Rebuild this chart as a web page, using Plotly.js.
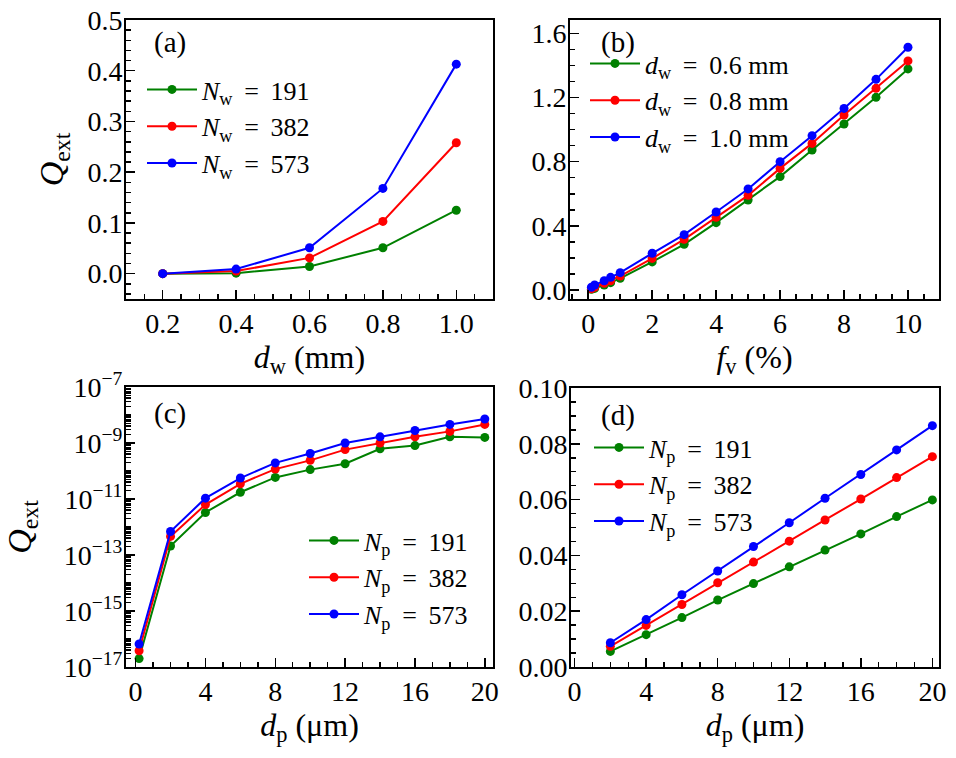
<!DOCTYPE html>
<html>
<head>
<meta charset="utf-8">
<script src="https://cdn.plot.ly/plotly-3.0.1.min.js"></script>
<style>html,body{margin:0;padding:0;background:#fff}#chart{width:956px;height:758px}</style>
</head>
<body>
<div id="chart"></div>
<script>
// Panel (a)
const dw = [0.2, 0.4, 0.6, 0.8, 1.0];
const qa_191 = [0.000, 0.001, 0.014, 0.051, 0.125];
const qa_382 = [0.000, 0.005, 0.031, 0.103, 0.258];
const qa_573 = [0.000, 0.009, 0.051, 0.168, 0.413];
// Panel (b)
const fv = [0.1, 0.2, 0.5, 0.7, 1, 2, 3, 4, 5, 6, 7, 8, 9, 10];
const qb_06 = [0.004, 0.010, 0.031, 0.046, 0.073, 0.175, 0.285, 0.420, 0.561, 0.707, 0.873, 1.035, 1.201, 1.378];
const qb_08 = [0.008, 0.017, 0.042, 0.058, 0.087, 0.197, 0.316, 0.453, 0.590, 0.758, 0.914, 1.091, 1.257, 1.428];
const qb_10 = [0.017, 0.031, 0.058, 0.079, 0.108, 0.229, 0.345, 0.486, 0.630, 0.800, 0.962, 1.132, 1.313, 1.513];
// Panel (c)
const dp_c = [0.2, 2, 4, 6, 8, 10, 12, 14, 16, 18, 20];
const qc_191 = [2.0e-17, 2.1e-13, 3.3e-12, 1.74e-11, 5.9e-11, 1.12e-10, 1.82e-10, 6.2e-10, 8.1e-10, 1.66e-9, 1.58e-9];
const qc_382 = [3.8e-17, 4.6e-13, 6.3e-12, 3.5e-11, 1.17e-10, 2.4e-10, 5.8e-10, 1.0e-9, 1.66e-9, 2.6e-9, 4.6e-9];
const qc_573 = [6.6e-17, 6.9e-13, 1.07e-11, 5.6e-11, 1.95e-10, 4.2e-10, 1.0e-9, 1.66e-9, 2.8e-9, 4.6e-9, 7.2e-9];
// Panel (d)
const dp_d = [2, 4, 6, 8, 10, 12, 14, 16, 18, 20];
const qd_191 = [0.0056, 0.0116, 0.0177, 0.0240, 0.0299, 0.0359, 0.0419, 0.0477, 0.0539, 0.0599];
const qd_382 = [0.0074, 0.0149, 0.0224, 0.0302, 0.0376, 0.0451, 0.0527, 0.0602, 0.0679, 0.0754];
const qd_573 = [0.0087, 0.0170, 0.0259, 0.0344, 0.0432, 0.0517, 0.0605, 0.0690, 0.0778, 0.0865];

const logTickVals = [1e-17, 1e-15, 1e-13, 1e-11, 1e-9, 1e-7];
const logTickText = ['10<sup>−17</sup>', '10<sup>−15</sup>', '10<sup>−13</sup>', '10<sup>−11</sup>', '10<sup>−9</sup>', '10<sup>−7</sup>'];

const GREEN = '#008000', RED = '#ff0000', BLUE = '#0000ff';
const FONT = 'Liberation Serif, DejaVu Serif, serif';

function tr(x, y, name, color, xa, ya, leg, grp) {
  return {x: x, y: y, name: name, type: 'scatter', mode: 'lines+markers',
    xaxis: xa, yaxis: ya, legend: leg, legendgroup: grp,
    line: {color: color, width: 2}, marker: {color: color, size: 9}};
}
const EQ = ' \u2009=\u2009 ';
const wN = (n) => '<i>N</i><sub>w</sub>' + EQ + n;
const pN = (n) => '<i>N</i><sub>p</sub>' + EQ + n;
const dW = (v) => '<i>d</i><sub>w</sub>' + EQ + v + ' mm';

const data = [
  tr(dw, qa_191, wN(191), GREEN, 'x', 'y', 'legend', 'a1'),
  tr(dw, qa_382, wN(382), RED, 'x', 'y', 'legend', 'a2'),
  tr(dw, qa_573, wN(573), BLUE, 'x', 'y', 'legend', 'a3'),
  tr(fv, qb_06, dW('0.6'), GREEN, 'x2', 'y2', 'legend2', 'b1'),
  tr(fv, qb_08, dW('0.8'), RED, 'x2', 'y2', 'legend2', 'b2'),
  tr(fv, qb_10, dW('1.0'), BLUE, 'x2', 'y2', 'legend2', 'b3'),
  tr(dp_c, qc_191, pN(191), GREEN, 'x3', 'y3', 'legend3', 'c1'),
  tr(dp_c, qc_382, pN(382), RED, 'x3', 'y3', 'legend3', 'c2'),
  tr(dp_c, qc_573, pN(573), BLUE, 'x3', 'y3', 'legend3', 'c3'),
  tr(dp_d, qd_191, pN(191), GREEN, 'x4', 'y4', 'legend4', 'd1'),
  tr(dp_d, qd_382, pN(382), RED, 'x4', 'y4', 'legend4', 'd2'),
  tr(dp_d, qd_573, pN(573), BLUE, 'x4', 'y4', 'legend4', 'd3')
];

const XT = {family: FONT, size: 32, color: 'black'};
const YT = {family: FONT, size: 34, color: 'black'};

function ax(extra, isY) {
  return Object.assign({
    showline: true, mirror: true, linecolor: 'black', linewidth: 2,
    ticks: 'inside', ticklen: 9, tickwidth: 1.5, tickcolor: 'black',
    showgrid: false, zeroline: false, fixedrange: true,
    ticklabelstandoff: isY ? -4 : -2,
    tickfont: {family: FONT, size: 28, color: 'black'}
  }, extra);
}
function minor(d, t0) {
  return {ticks: 'inside', ticklen: 5, tickwidth: 1.5, tickcolor: 'black', dtick: d, tick0: t0, showgrid: false};
}
const minorLog = [];
for (let e = -17; e < -7; e++) for (let k = 1; k <= 9; k++) minorLog.push(k * Math.pow(10, e));

function leg(x, y, gap) {
  return {x: x, y: y, xanchor: 'left', yanchor: 'top', xref: 'paper', yref: 'paper',
    bgcolor: 'rgba(0,0,0,0)', borderwidth: 0, font: {family: FONT, size: 26, color: 'black'},
    tracegroupgap: gap, itemwidth: 50, traceorder: 'normal'};
}
function lab(t, x, y) {
  return {text: t, x: x / W, y: 1 - y / H, xref: 'paper', yref: 'paper', xanchor: 'center', yanchor: 'middle',
    showarrow: false, font: {family: FONT, size: 29, color: 'black'}};
}

const W = 956, H = 758;
const layout = {
  width: W, height: H, margin: {l: 0, r: 0, t: 0, b: 0},
  paper_bgcolor: 'white', plot_bgcolor: 'white', showlegend: true,
  font: {family: FONT, color: 'black'},
  xaxis: ax({anchor: 'y', domain: [126/W, 493/W], range: [0.1, 1.1], tick0: 0.2, dtick: 0.2, tickformat: '.1f',
    minor: minor(0.05, 0), title: {text: '<i>d</i><sub>w</sub> (mm)', font: XT, standoff: 2}}),
  yaxis: ax({anchor: 'x', domain: [1 - 299/H, 1 - 20/H], range: [-0.05, 0.5], tick0: 0, dtick: 0.1, tickformat: '.1f',
    minor: minor(0.02, 0), title: {text: '<i>Q</i><sub>ext</sub>', font: YT, standoff: 14}}, true),
  xaxis2: ax({anchor: 'y2', domain: [570/W, 939/W], range: [-0.57, 10.97], tick0: 0, dtick: 2,
    minor: minor(0.5, 0), title: {text: '<i>f</i><sub>v</sub> (%)', font: XT, standoff: 2}}),
  yaxis2: ax({anchor: 'x2', domain: [1 - 299/H, 1 - 20/H], range: [-0.056, 1.683], tick0: 0, dtick: 0.4, tickformat: '.1f',
    minor: minor(0.1, 0)}, true),
  xaxis3: ax({anchor: 'y3', domain: [126/W, 493/W], range: [-0.55, 20.47], tick0: 0, dtick: 4,
    minor: minor(1, 0), title: {text: '<i>d</i><sub>p</sub> (μm)', font: XT, standoff: 0}}),
  yaxis3: ax({anchor: 'x3', type: 'log', domain: [1 - 667/H, 1 - 387/H], range: [-17, -7],
    tickmode: 'array', tickvals: logTickVals, ticktext: logTickText,
    minor: {ticks: 'inside', ticklen: 5, tickwidth: 1.5, tickcolor: 'black', tickmode: 'array', tickvals: minorLog, showgrid: false},
    title: {text: '<i>Q</i><sub>ext</sub>', font: YT, standoff: 22}}, true),
  xaxis4: ax({anchor: 'y4', domain: [571/W, 939/W], range: [-0.2, 20.37], tick0: 0, dtick: 4,
    minor: minor(1, 0), title: {text: '<i>d</i><sub>p</sub> (μm)', font: XT, standoff: 0}}),
  yaxis4: ax({anchor: 'x4', domain: [1 - 667/H, 1 - 388/H], range: [0, 0.1], tick0: 0, dtick: 0.02, tickformat: '.2f',
    minor: minor(0.005, 0)}, true),
  legend: leg(142/W, 1 - 66/H, 6),
  legend2: leg(585/W, 1 - 40/H, 6),
  legend3: leg(304/W, 1 - 517/H, 6),
  legend4: leg(589/W, 1 - 424/H, 6),
  annotations: [
    lab('(a)', 170, 42),
    lab('(b)', 618, 43),
    lab('(c)', 170, 413),
    lab('(d)', 618, 415)
  ]
};

Plotly.newPlot('chart', data, layout, {displayModeBar: false, staticPlot: true});
</script>
</body>
</html>
